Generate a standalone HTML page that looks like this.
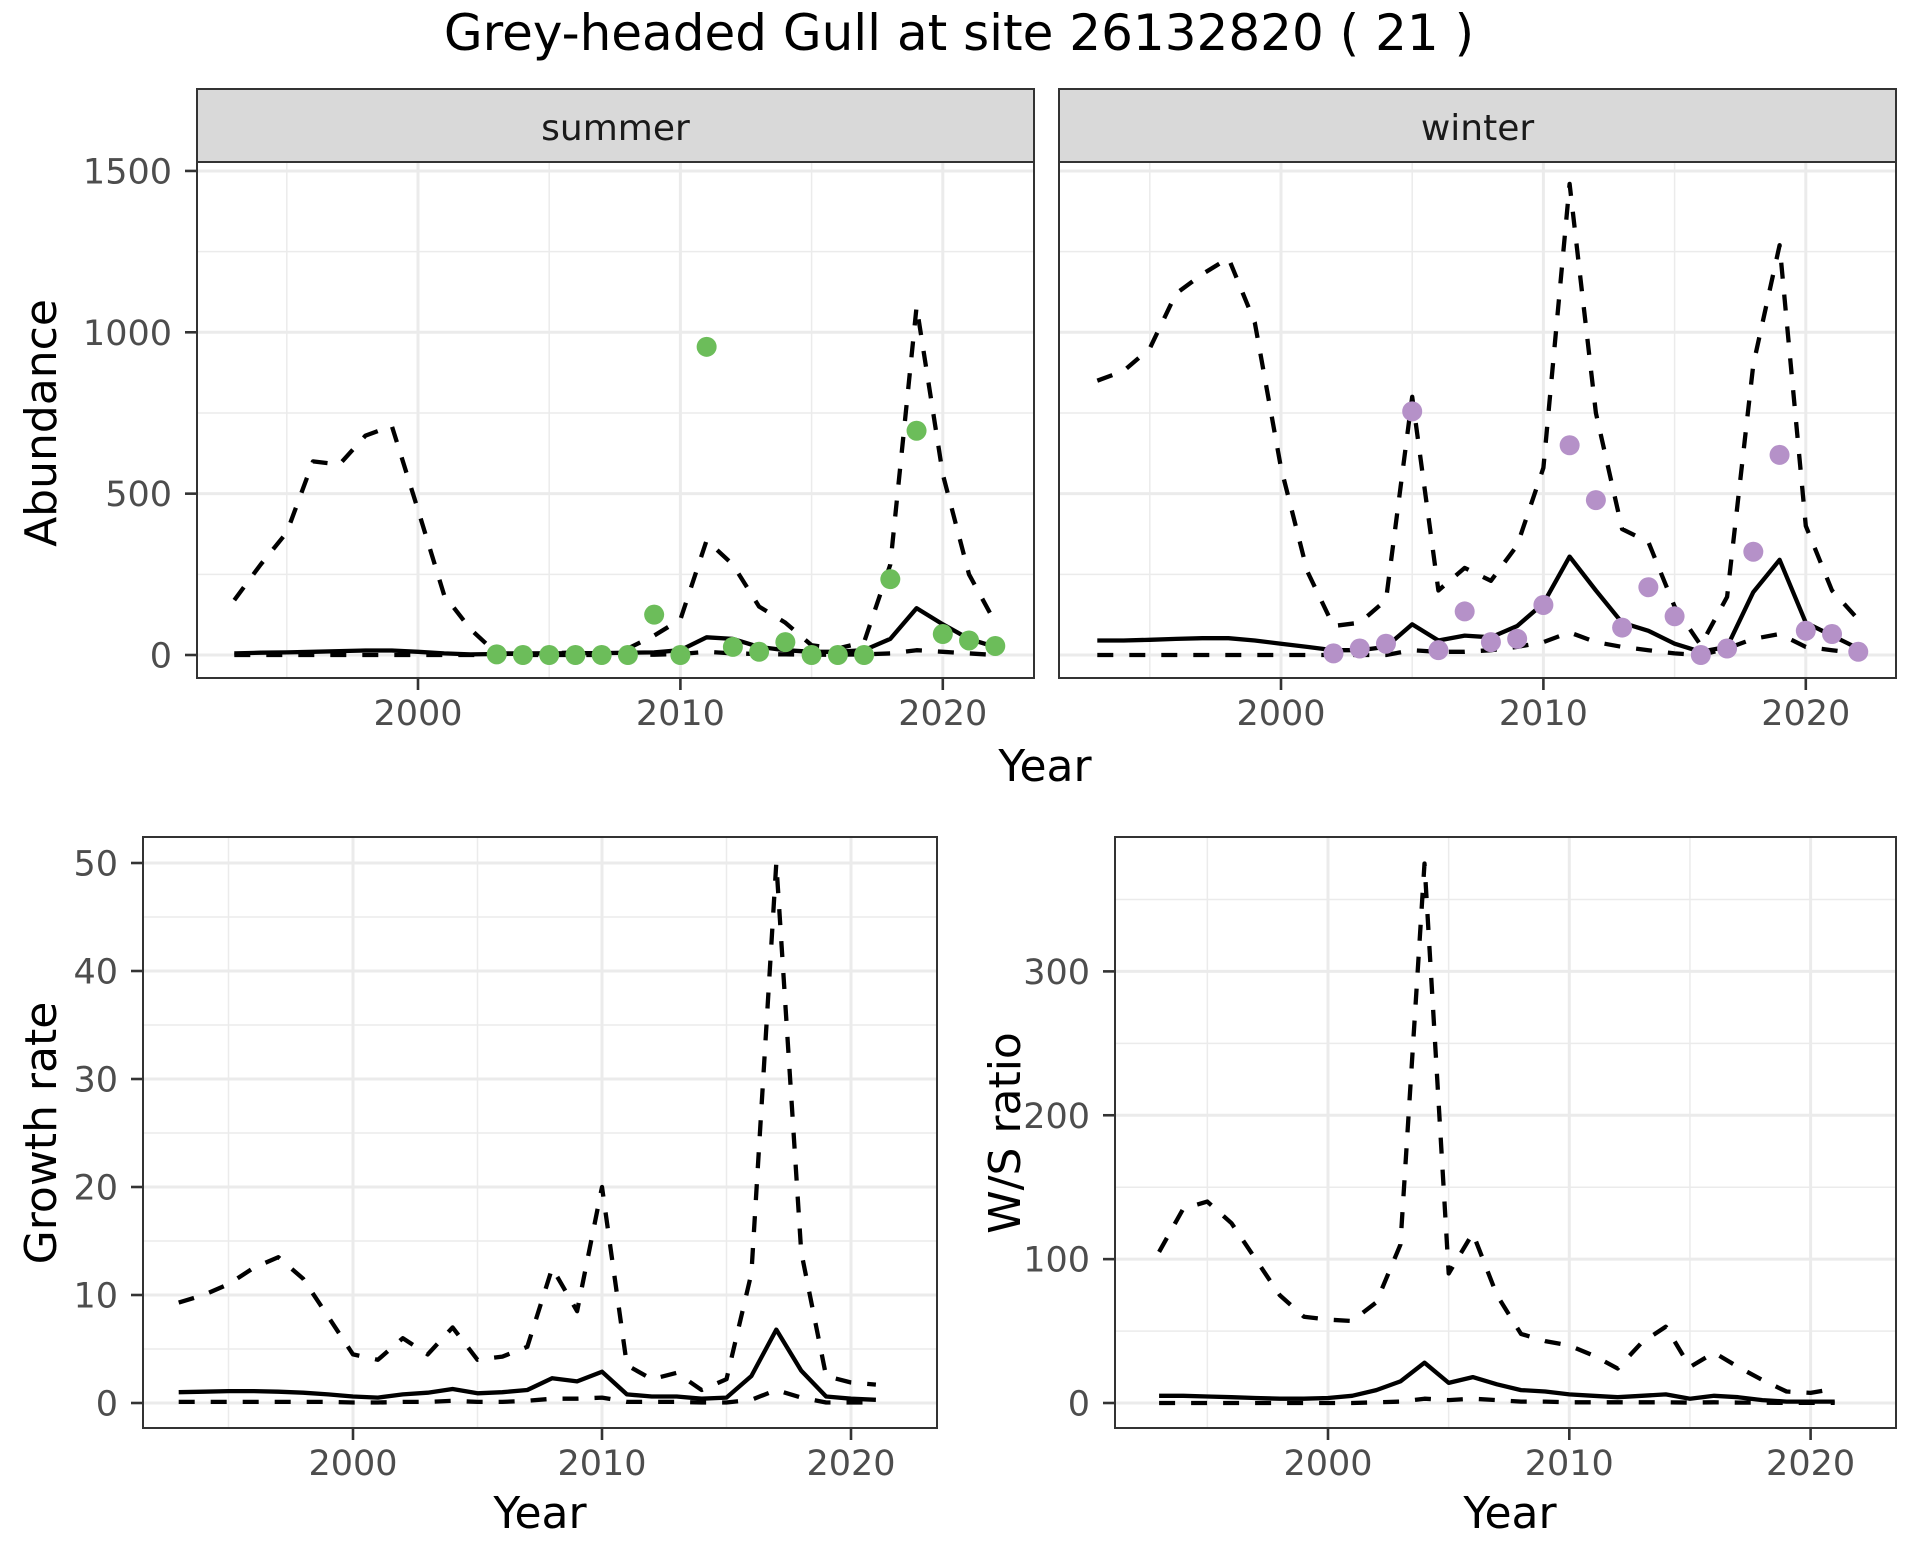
<!DOCTYPE html>
<html><head><meta charset="utf-8"><style>
html,body{margin:0;padding:0;background:#fff;}
svg{display:block;font-family:"DejaVu Sans","Liberation Sans",sans-serif;}
</style></head><body>
<svg id="chart" width="1920" height="1560" viewBox="0 0 1920 1560" xmlns="http://www.w3.org/2000/svg">
<rect width="1920" height="1560" fill="#fff"/>
<text x="959" y="50" font-size="50" text-anchor="middle" fill="#000">Grey-headed Gull at site 26132820 ( 21 )</text>
</svg>
<script>
const yearsS = [1993,1994,1995,1996,1997,1998,1999,2000,2001,2002,2003,2004,2005,2006,2007,2008,2009,2010,2011,2012,2013,2014,2015,2016,2017,2018,2019,2020,2021,2022];
const summerUpper = [170,280,380,600,590,680,710,450,185,80,5,5,5,8,10,20,60,110,355,280,150,100,30,20,40,280,1080,560,250,100];
const summerMean = [5,7,8,10,12,14,14,10,5,2,3,4,5,6,6,7,8,15,55,50,25,15,10,10,15,50,145,95,50,25];
const summerLower = [0,0,0,0,0,0,0,0,0,0,0,0,0,0,0,0,1,3,10,5,3,2,1,1,2,5,15,10,5,0];
const summerObsYears = [2003,2004,2005,2006,2007,2008,2009,2010,2011,2012,2013,2014,2015,2016,2017,2018,2019,2020,2021,2022];
const summerObs = [2,0,0,0,0,0,125,0,955,25,10,40,0,0,0,235,695,65,45,28];
const winterUpper = [850,880,950,1120,1180,1230,1030,580,260,90,100,170,800,200,270,230,340,580,1460,750,390,350,150,30,180,900,1270,400,200,110];
const winterMean = [45,45,47,50,52,52,45,35,25,15,15,25,95,45,60,55,90,160,305,200,100,75,35,10,25,195,295,100,60,20];
const winterLower = [0,0,0,0,0,0,0,0,0,0,0,0,15,10,10,15,25,40,70,40,25,15,5,0,20,50,65,25,15,5];
const winterObsYears = [2002,2003,2004,2005,2006,2007,2008,2009,2010,2011,2012,2013,2014,2015,2016,2017,2018,2019,2020,2021,2022];
const winterObs = [5,20,35,755,15,135,40,50,155,650,480,85,210,120,0,20,320,620,75,65,10];
const yearsG = [1993,1994,1995,1996,1997,1998,1999,2000,2001,2002,2003,2004,2005,2006,2007,2008,2009,2010,2011,2012,2013,2014,2015,2016,2017,2018,2019,2020,2021];
const growthUpper = [9.3,10,11,12.5,13.5,11.5,8,4.5,4,6,4.5,7,4,4.3,5.2,12.5,8.5,20,3.5,2.2,2.8,1.2,2.2,12,50,14,2.5,1.9,1.7];
const growthMean = [1.0,1.05,1.1,1.1,1.05,0.95,0.8,0.6,0.5,0.8,0.95,1.3,0.9,1.0,1.2,2.3,2.0,2.9,0.8,0.6,0.6,0.4,0.5,2.5,6.8,3.0,0.6,0.4,0.3];
const growthLower = [0.1,0.1,0.1,0.1,0.1,0.1,0.1,0.05,0.05,0.1,0.1,0.2,0.1,0.1,0.2,0.4,0.4,0.5,0.1,0.1,0.1,0.05,0.05,0.3,1.2,0.5,0.05,0.05,0.05];
const ratioUpper = [105,135,140,125,100,75,60,58,57,70,110,375,90,118,75,48,43,40,33,24,42,53,25,35,25,16,8,7,10];
const ratioMean = [5,5,4.5,4,3.5,3,3,3.5,5,9,15,28,14,18,13,9,8,6,5,4,5,6,3,5,4,2,1,1,1];
const ratioLower = [0,0,0,0,0,0,0,0,0,0.5,1,3,2,3,2,1,1,0.5,0.5,0.5,0.5,0.5,0.3,0.5,0.3,0.2,0.1,0.1,0.1];
const xTicks = [2000,2010,2020];
const xMinor = [1995,2005,2015];
const abTicks = [0,500,1000,1500];
const abMinor = [250,750,1250];
const grTicks = [0,10,20,30,40,50];
const grMinor = [5,15,25,35,45];
const rtTicks = [0,100,200,300];
const rtMinor = [50,150,250,350];

const NS='http://www.w3.org/2000/svg';
const svg=document.getElementById('chart');
function mk(tag,attrs,parent){const e=document.createElementNS(NS,tag);for(const k in attrs)e.setAttribute(k,attrs[k]);(parent||svg).appendChild(e);return e;}

function panel(o){
  const g=mk('g',{});
  
  
  const sx=v=>o.x0+(v-o.xa)*o.xs;
  const sy=v=>o.y0-v*o.ys;
  mk('rect',{x:o.L,y:o.T,width:o.R-o.L,height:o.B-o.T,fill:'#fff'},g);
  o.xMinor.forEach(v=>mk('line',{x1:sx(v),x2:sx(v),y1:o.T,y2:o.B,stroke:'#ebebeb','stroke-width':1.5},g));
  o.yMinor.forEach(v=>{if(sy(v)>o.T)mk('line',{x1:o.L,x2:o.R,y1:sy(v),y2:sy(v),stroke:'#ebebeb','stroke-width':1.5},g);});
  o.xTicks.forEach(v=>mk('line',{x1:sx(v),x2:sx(v),y1:o.T,y2:o.B,stroke:'#ebebeb','stroke-width':3},g));
  o.yTicks.forEach(v=>mk('line',{x1:o.L,x2:o.R,y1:sy(v),y2:sy(v),stroke:'#ebebeb','stroke-width':3},g));
  const line=(ys,dash,nm)=>{
    const d=o.years.map((y,i)=>(i?'L':'M')+sx(y).toFixed(1)+' '+sy(ys[i]).toFixed(1)).join(' ');
    const p=mk('path',{d:d,fill:'none',stroke:'#000','stroke-width':4.3,'stroke-dasharray':dash?'16 16':'none','stroke-linejoin':'round'},g);
    
    
  };
  line(o.upper,true,'upper-bound-line');
  line(o.lower,true,'lower-bound-line');
  line(o.mean,false,'mean-line');
  if(o.obs){o.obsYears.forEach((y,i)=>{
    const c=mk('circle',{cx:sx(y),cy:sy(o.obs[i]),r:10,fill:o.color},g);
    
    
  });}
  mk('rect',{x:o.L,y:o.T,width:o.R-o.L,height:o.B-o.T,fill:'none',stroke:'#333','stroke-width':2},g);
  o.xTicks.forEach(v=>{
    mk('line',{x1:sx(v),x2:sx(v),y1:o.B,y2:o.B+12,stroke:'#333','stroke-width':2.6},g);
    const t=mk('text',{x:sx(v),y:o.B+47,'font-size':35,'text-anchor':'middle',fill:'#4d4d4d'},g);t.textContent=v;
  });
  if(o.yLabels){o.yTicks.forEach(v=>{
    mk('line',{x1:o.L-12,x2:o.L,y1:sy(v),y2:sy(v),stroke:'#333','stroke-width':2.6},g);
    const t=mk('text',{x:o.L-25,y:sy(v)+12.5,'font-size':35,'text-anchor':'end',fill:'#4d4d4d'},g);t.textContent=v;
  });}
  if(o.strip){
    const r=mk('rect',{x:o.L,y:89,width:o.R-o.L,height:o.T-89,fill:'#d9d9d9',stroke:'#333','stroke-width':2},g);
    
    
    const t=mk('text',{x:(o.L+o.R)/2,y:140,'font-size':36,'text-anchor':'middle',fill:'#1a1a1a'},g);t.textContent=o.strip;
  }
}
function label(txt,x,y,rot,nm){
  const t=mk('text',{x:x,y:y,'font-size':44,'text-anchor':'middle',fill:'#000',transform:rot?`rotate(-90 ${x} ${y})`:''});
  t.textContent=txt;
  
  
}
panel({name:'summer-panel',L:197,R:1034,T:162,B:678,x0:418,xa:2000,xs:26.24,y0:655,ys:0.3227,years:yearsS,upper:summerUpper,mean:summerMean,lower:summerLower,obs:summerObs,obsYears:summerObsYears,color:'#6cbd5a',xTicks:xTicks,xMinor:xMinor,yTicks:abTicks,yMinor:abMinor,yLabels:true,strip:'summer'});
panel({name:'winter-panel',L:1059,R:1896,T:162,B:678,x0:1281,xa:2000,xs:26.24,y0:655,ys:0.3227,years:yearsS,upper:winterUpper,mean:winterMean,lower:winterLower,obs:winterObs,obsYears:winterObsYears,color:'#b591c8',xTicks:xTicks,xMinor:xMinor,yTicks:abTicks,yMinor:abMinor,yLabels:false,strip:'winter'});
panel({name:'growth-rate-panel',L:143,R:937,T:837,B:1428,x0:353,xa:2000,xs:24.9,y0:1403,ys:10.8,years:yearsG,upper:growthUpper,mean:growthMean,lower:growthLower,xTicks:xTicks,xMinor:xMinor,yTicks:grTicks,yMinor:grMinor,yLabels:true});
panel({name:'ws-ratio-panel',L:1115,R:1896,T:837,B:1428,x0:1328,xa:2000,xs:24.13,y0:1403,ys:1.4387,years:yearsG,upper:ratioUpper,mean:ratioMean,lower:ratioLower,xTicks:xTicks,xMinor:xMinor,yTicks:rtTicks,yMinor:rtMinor,yLabels:true});
label('Abundance',56,423,true,'y-axis-title-abundance');
label('Year',1045,781,false,'x-axis-title-top');
label('Growth rate',56,1133,true,'y-axis-title-growth');
label('Year',540,1528,false,'x-axis-title-growth');
label('W/S ratio',1020,1133,true,'y-axis-title-ratio');
label('Year',1510,1528,false,'x-axis-title-ratio');
</script>
</body></html>
